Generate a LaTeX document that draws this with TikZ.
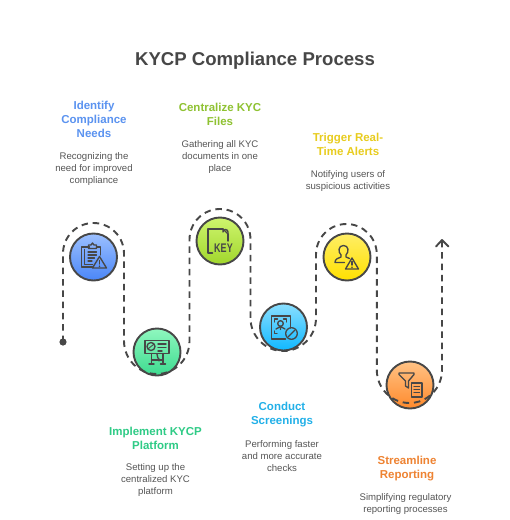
\documentclass[tikz,border=0pt]{standalone}
\usepackage{fontspec}
\usepackage{graphicx}
\setmainfont{Liberation Sans}
\definecolor{ink}{HTML}{474747}
\definecolor{desc}{HTML}{555555}
\definecolor{cblue}{HTML}{5B93F0}
\definecolor{cgreen}{HTML}{2FCB86}
\definecolor{clime}{HTML}{8FC232}
\definecolor{ccyan}{HTML}{22B0E8}
\definecolor{cyell}{HTML}{E8CC1E}
\definecolor{corange}{HTML}{EE8332}
\definecolor{t1}{HTML}{9CC0FF}\definecolor{b1}{HTML}{4A86F7}
\definecolor{t2}{HTML}{8FF7BE}\definecolor{b2}{HTML}{3DDB90}
\definecolor{t3}{HTML}{CFF56E}\definecolor{b3}{HTML}{A0D62C}
\definecolor{t4}{HTML}{8ADFFF}\definecolor{b4}{HTML}{10B8FF}
\definecolor{t5}{HTML}{FFEE66}\definecolor{b5}{HTML}{FFE000}
\definecolor{t6}{HTML}{FFC285}\definecolor{b6}{HTML}{FF8A2C}
\tikzset{
  x=1pt,y=-1pt,
  disc/.style n args={2}{circle,minimum size=47pt,inner sep=0pt,draw=ink,line width=1.9pt,top color=#1,bottom color=#2},
  snake/.style={draw=ink,line width=1.9pt,dash pattern=on 6.5pt off 4.8pt},
  head/.style={font=\bfseries\fontsize{11.5}{14}\selectfont,align=center,inner sep=0pt},
  body/.style={text=desc,font=\fontsize{9.6}{12}\selectfont,align=center,inner sep=0pt},
  glyph/.style={draw=ink,line width=1.35pt,line join=round,line cap=round,fill=none},
}
\begin{document}
\begin{tikzpicture}
\useasboundingbox (0,0) rectangle (510,520);
\fill[white] (0,0) rectangle (510,520);
\node[text=ink,font=\bfseries\fontsize{18.6}{22}\selectfont,inner sep=0pt] (title) at (255,60.5) {KYCP Compliance Process};

\node[disc={t1}{b1}] (n1) at (93.5,257) {};
\node[disc={t2}{b2}] (n2) at (157,352) {};
\node[disc={t3}{b3}] (n3) at (220,241) {};
\node[disc={t4}{b4}] (n4) at (283.5,327) {};
\node[disc={t5}{b5}] (n5) at (347,257) {};
\node[disc={t6}{b6}] (n6) at (410,385) {};

\coordinate (start) at (63,342);
\coordinate (tip) at (442,240);
\draw[snake] (start) -- (63,253.5)
  arc[start angle=180,end angle=0,x radius=30.5,y radius=-30.5]
  -- (124,341) arc[start angle=180,end angle=0,x radius=32.75,y radius=33]
  -- (189.5,239.5) arc[start angle=180,end angle=0,x radius=30.5,y radius=-30.5]
  -- (250.5,318) arc[start angle=180,end angle=0,x radius=32.75,y radius=33]
  -- (316,254.5) arc[start angle=180,end angle=0,x radius=30.4,y radius=-30.5]
  -- (376.8,370) arc[start angle=180,end angle=0,x radius=32.6,y radius=33]
  -- (tip);
\fill[ink] (start) circle[radius=3.6];
\draw[ink,line width=1.9pt,line cap=round,line join=round] (436,246.5) -- (tip) -- (448.5,246.5);

% icon 1: clipboard and warning triangle
\begin{scope}[shift={(n1.center)}]
  \draw[glyph] (-4,-10) -- (-12,-10) -- (-12,10) -- (-1,10);
  \draw[glyph] (-9,-7.5) -- (-9,7.5) -- (-1,7.5);
  \draw[glyph] (-5,-12) -- (-5,-8.5) -- (3,-8.5) -- (3,-12) -- (0.5,-12) -- (-1,-14) -- (-2.5,-12) -- cycle;
  \draw[glyph] (3,-10) -- (7,-10) -- (7,-2);
  \draw[glyph,line width=1.1pt] (-5.5,-5) -- (3,-5) (-5.5,-2) -- (3,-2) (-5.5,1) -- (1,1) (-5.5,4) -- (-1.5,4);
  \draw[glyph] (6,-0.5) -- (13,11) -- (-1,11) -- cycle;
  \draw[glyph] (6,3.5) -- (6,7);
  \fill[ink] (6,9.2) circle[radius=.8];
\end{scope}

% icon 2: presentation board
\begin{scope}[shift={(n2.center)}]
  \draw[glyph] (-12,-11.5) rectangle (12,1.5);
  \draw[glyph] (-6,-5.5) circle[radius=4];
  \draw[glyph,line width=.9pt] (-8.5,-3.5) -- (-3.5,-7.5);
  \draw[glyph] (1,-8) -- (9,-8) (1,-4.5) -- (9,-4.5) (1,-1) -- (5,-1);
  \draw[glyph] (-5.5,1.5) -- (-5.5,12) (6,1.5) -- (6,12) (-8,12) -- (-3,12) (3.5,12) -- (8.5,12) (-5.5,8) -- (6,8);
  \draw[glyph] (0,2) .. controls (2,4) and (-1,5) .. (1,6) .. controls (3,7) and (2,8) .. (2,9);
\end{scope}

% icon 3: file with KEY
\begin{scope}[shift={(n3.center)}]
  \draw[glyph] (3,-12) -- (-12,-12) -- (-12,12) -- (-7.5,12);
  \draw[glyph] (8,-7) -- (8,0);
  \draw[glyph] (3,-12) -- (3,-9) arc[start angle=180,end angle=360,radius=2.5] -- (8,-7);
  \draw[glyph] (3,-12) -- (8,-7);
  \node[text=ink,font=\fontsize{12.5}{13}\selectfont\bfseries,inner sep=0pt] (k3) at (3.5,7.5) {\scalebox{.72}[1]{KEY}};
\end{scope}

% icon 4: face scan and no-entry mark
\begin{scope}[shift={(n4.center)}]
  \draw[glyph] (7,1) -- (7,-11) -- (-12,-11) -- (-12,12) -- (2,12);
  \draw[glyph] (-9,-5) -- (-9,-8) -- (-6,-8) (0,-8) -- (3,-8) -- (3,-5);
  \draw[glyph] (-3,-3.5) circle[radius=2.8];
  \draw[glyph] (-3,-0.5) -- (-3,2.5) (-7.5,2) -- (-3,-0.5) -- (1.5,2);
  \draw[glyph] (-9,4) -- (-9,6.5) -- (-6.5,6.5);
  \draw[glyph] (8,6.5) circle[radius=5.8];
  \draw[glyph] (5,9.5) -- (11,3.5);
\end{scope}

% icon 5: person with warning triangle
\begin{scope}[shift={(n5.center)}]
  \draw[glyph] (-6,-2) .. controls (-9,-5) and (-9,-11.5) .. (-3.5,-11.5) .. controls (2,-11.5) and (2,-5) .. (-1,-2) -- (-1,0) -- (2.5,1.5);
  \draw[glyph] (-6,-2) -- (-6,0) .. controls (-9,1) and (-12,2) .. (-12,5.5) -- (-2.5,5.5);
  \draw[glyph] (5,1) -- (11.5,12) -- (-1.5,12) -- cycle;
  \draw[glyph] (5,4.5) -- (5,8);
  \fill[ink] (5,10.2) circle[radius=.8];
\end{scope}

% icon 6: funnel and document
\begin{scope}[shift={(n6.center)}]
  \draw[glyph] (-11,-12) -- (4,-12) -- (4,-10.5) -- (-1.5,-4) -- (-1.5,3) -- (-4.5,1) -- (-4.5,-4) -- (-11,-10.5) -- cycle;
  \draw[glyph] (1.5,-2) -- (12,-2) -- (12,12) -- (1.5,12) -- cycle;
  \draw[glyph,line width=1.1pt] (4,1.5) -- (9.5,1.5) (4,4.5) -- (9.5,4.5) (4,7.5) -- (9.5,7.5);
\end{scope}

\node[head,text=cblue] (h1) at (94,119) {Identify\\Compliance\\Needs};
\node[body] (d1) at (94,169) {Recognizing the\\need for improved\\compliance};
\node[head,text=clime] (h3) at (220,114) {Centralize KYC\\Files};
\node[body] (d3) at (220,157) {Gathering all KYC\\documents in one\\place};
\node[head,text=cyell] (h5) at (348,144) {Trigger Real-\\Time Alerts};
\node[body] (d5) at (348,181) {Notifying users of\\suspicious activities};
\node[head,text=cgreen] (h2) at (155.5,438) {Implement KYCP\\Platform};
\node[body] (d2) at (155.5,480.5) {Setting up the\\centralized KYC\\platform};
\node[head,text=ccyan] (h4) at (282,415) {Conduct\\Screenings};
\node[body] (d4) at (282,456.5) {Performing faster\\and more accurate\\checks};
\node[head,text=corange] (h6) at (407,469) {Streamline\\Reporting};
\node[body] (d6) at (405.5,504.5) {Simplifying regulatory\\reporting processes};
\end{tikzpicture}
\end{document}
